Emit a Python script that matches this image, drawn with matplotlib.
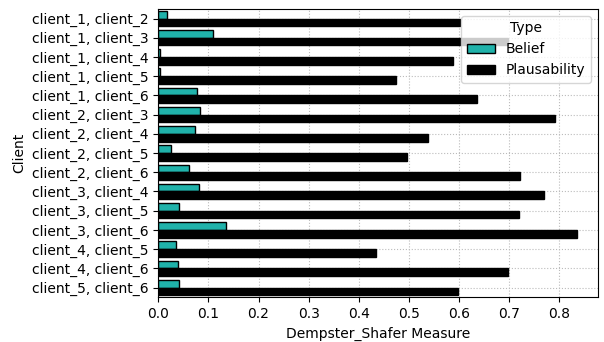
import numpy as np
import matplotlib
matplotlib.use("Agg")
import matplotlib.pyplot as plt

pairs = ["client_1, client_2", "client_1, client_3", "client_1, client_4",
         "client_1, client_5", "client_1, client_6", "client_2, client_3",
         "client_2, client_4", "client_2, client_5", "client_2, client_6",
         "client_3, client_4", "client_3, client_5", "client_3, client_6",
         "client_4, client_5", "client_4, client_6", "client_5, client_6"]
belief = [0.018, 0.109, 0.004, 0.004, 0.078, 0.083, 0.073, 0.026, 0.062,
          0.081, 0.041, 0.136, 0.036, 0.039, 0.042]
plaus = [0.601, 0.698, 0.587, 0.475, 0.635, 0.792, 0.538, 0.496, 0.722,
         0.769, 0.719, 0.836, 0.435, 0.698, 0.598]

fig = plt.figure(figsize=(6.04, 3.42), dpi=100)
ax = fig.add_axes([0.262, 0.131, 0.728, 0.843])

pos = np.arange(len(pairs))
h = 0.4
ax.barh(pos - h / 2, belief, height=h, color="lightseagreen",
        edgecolor="black", linewidth=1, label="Belief")
ax.barh(pos + h / 2, plaus, height=h, color="black",
        edgecolor="black", linewidth=1, label="Plausability")

ax.set_yticks(pos)
ax.set_yticklabels(pairs)
ax.set_ylim(len(pairs) - 0.5, -0.5)
ax.set_xticks([0.0, 0.1, 0.2, 0.3, 0.4, 0.5, 0.6, 0.7, 0.8])
ax.set_xlim(0, 0.877)
ax.set_axisbelow(True)
ax.grid(True, linestyle=":", color="#bbbbbb", linewidth=0.8)

ax.set_xlabel("Dempster_Shafer Measure")
ax.set_ylabel("Client")
ax.legend(title="Type", loc="upper right")

fig.savefig("out.png", dpi=100)
